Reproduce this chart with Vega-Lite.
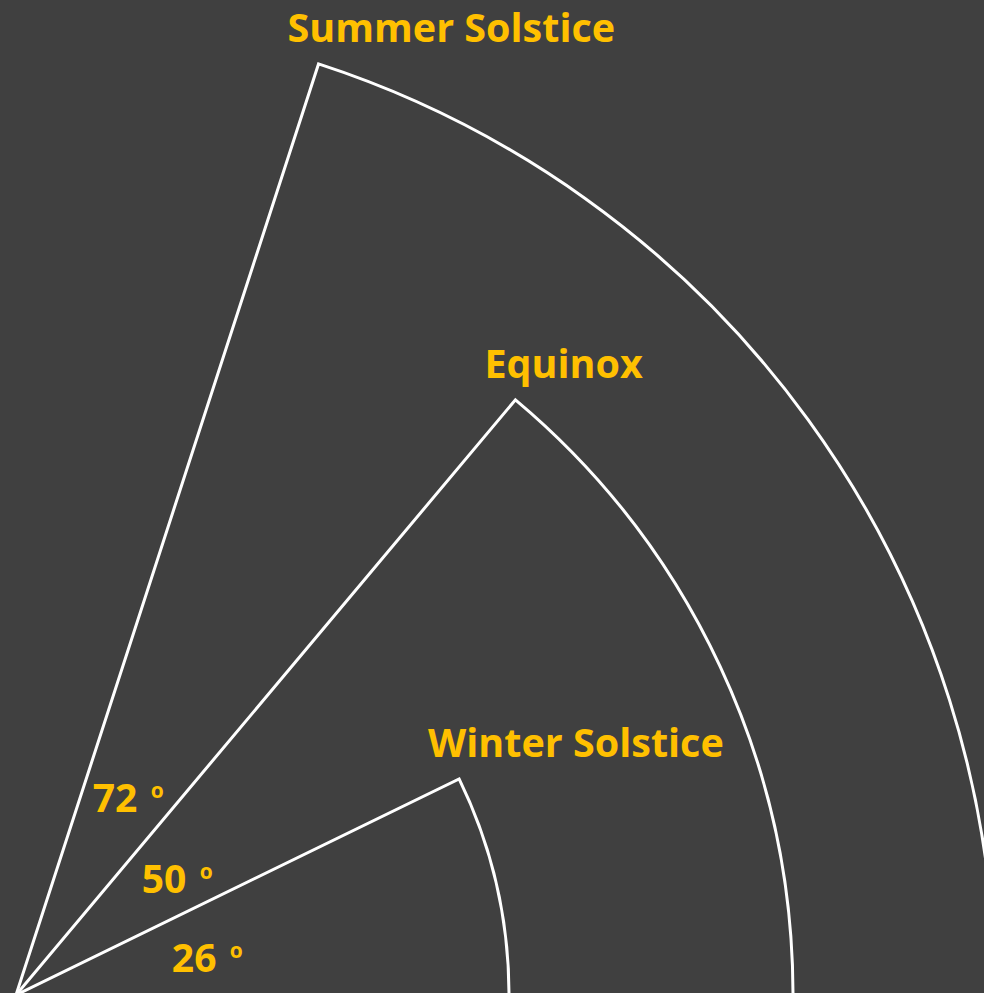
{
  "$schema": "https://vega.github.io/schema/vega-lite/v6.json",
  "width": 984,
  "height": 993,
  "autosize": "none",
  "padding": 0,
  "background": "#404040",
  "config": {"view": {"stroke": null}},
  "data": {
    "values": [
      {"season": "Summer Solstice", "angle": 72, "length": 979},
      {"season": "Equinox", "angle": 50, "length": 777},
      {"season": "Winter Solstice", "angle": 26, "length": 493}
    ]
  },
  "encoding": {
    "x": {"datum": 0, "type": "quantitative", "scale": {"domain": [-16, 968], "zero": false}, "axis": null},
    "y": {"datum": 0, "type": "quantitative", "scale": {"domain": [2, 995], "zero": false}, "axis": null}
  },
  "layer": [
    {
      "mark": {"type": "arc", "filled": false, "stroke": "#ffffff", "strokeWidth": 3},
      "encoding": {
        "theta": {"field": "angle", "type": "quantitative", "stack": null, "scale": {"type": "linear", "zero": false, "domain": [90, -270], "range": [0, 6.283185307]}},
        "theta2": {"datum": 0},
        "radius": {"field": "length", "type": "quantitative", "scale": {"type": "linear", "zero": false, "domain": [0, 1000], "range": [0, 1000]}}
      }
    },
    {
      "mark": {"type": "text", "align": "left", "baseline": "alphabetic", "dx": -31, "dy": -22, "font": "Open Sans", "fontWeight": "bold", "fontSize": 39.5, "color": "#FFC000"},
      "encoding": {
        "theta": {"field": "angle", "type": "quantitative", "stack": null, "scale": {"type": "linear", "zero": false, "domain": [90, -270], "range": [0, 6.283185307]}},
        "radius": {"field": "length", "type": "quantitative", "scale": {"type": "linear", "zero": false, "domain": [0, 1000], "range": [0, 1000]}},
        "text": {"field": "season"}
      }
    },
    {
      "mark": {"type": "text", "align": "left", "baseline": "alphabetic", "font": "Open Sans", "fontWeight": "bold", "fontSize": 39, "color": "#FFC000"},
      "encoding": {
        "theta": {"field": "angle", "type": "quantitative", "stack": null, "scale": {"type": "linear", "zero": false, "domain": [26, 72], "range": [1.4259, 0.3979]}},
        "radius": {"field": "angle", "type": "quantitative", "scale": {"type": "pow", "exponent": 6, "zero": false, "domain": [26, 72], "range": [157.5, 198]}},
        "text": {"field": "angle", "type": "quantitative"}
      }
    },
    {
      "mark": {"type": "text", "align": "left", "baseline": "alphabetic", "dx": 58, "dy": -14, "font": "Open Sans", "fontWeight": "bold", "fontSize": 21, "color": "#FFC000"},
      "encoding": {
        "theta": {"field": "angle", "type": "quantitative", "stack": null, "scale": {"type": "linear", "zero": false, "domain": [26, 72], "range": [1.4259, 0.3979]}},
        "radius": {"field": "angle", "type": "quantitative", "scale": {"type": "pow", "exponent": 6, "zero": false, "domain": [26, 72], "range": [157.5, 198]}},
        "text": {"value": "o"}
      }
    }
  ],
  "resolve": {"scale": {"theta": "independent", "radius": "independent"}}
}
